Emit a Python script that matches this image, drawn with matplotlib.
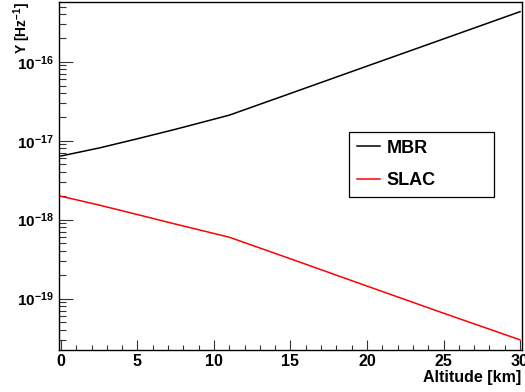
import matplotlib
matplotlib.use("Agg")
import matplotlib.pyplot as plt
from matplotlib.ticker import LogLocator, MultipleLocator, LogFormatterMathtext

plt.rcParams['font.family'] = ['Liberation Sans', 'DejaVu Sans']
plt.rcParams['font.weight'] = 'bold'
plt.rcParams['mathtext.fontset'] = 'custom'
plt.rcParams['mathtext.rm'] = 'Liberation Sans:bold'
plt.rcParams['mathtext.bf'] = 'Liberation Sans:bold'
plt.rcParams['mathtext.it'] = 'Liberation Sans:bold'
plt.rcParams['mathtext.default'] = 'bf'

# Data
altitude = [0, 2.5, 5, 7.5, 11, 15, 20, 25, 30]
mbr = [6.41e-18, 8.1e-18, 1.06e-17, 1.40e-17, 2.11e-17, 3.98e-17, 8.82e-17, 1.95e-16, 4.32e-16]
slac = [1.98e-18, 1.53e-18, 1.16e-18, 8.77e-19, 5.99e-19, 3.19e-19, 1.44e-19, 6.53e-20, 3.0e-20]
series_labels = ["MBR", "SLAC"]
xlabel = "Altitude [km]"
ylabel = "Y [Hz$^{-1}$]"

W, H = 525, 392
fig = plt.figure(figsize=(W / 100, H / 100), dpi=100)
ax = fig.add_axes([59 / W, 1 - 350 / H, (522.3 - 59) / W, 348 / H])

l1, = ax.plot(altitude, mbr, color='black', lw=1.1)
l2, = ax.plot(altitude, slac, color='#ff0000', lw=1.1)

ax.set_yscale('log')
ax.set_xlim(-0.13, 30.15)
ax.set_ylim(2.23e-20, 5.73e-16)

ax.xaxis.set_major_locator(MultipleLocator(5))
ax.xaxis.set_minor_locator(MultipleLocator(1))
ax.yaxis.set_major_locator(LogLocator(base=10, numticks=20))
ax.yaxis.set_minor_locator(LogLocator(base=10, subs=range(2, 10), numticks=20))
ax.yaxis.set_major_formatter(LogFormatterMathtext())

ax.tick_params(axis='both', which='both', direction='in', top=False, right=False,
               color='#333333', width=0.8)
ax.tick_params(axis='x', which='major', length=7.2, pad=3, labelsize=11.5)
ax.tick_params(axis='x', which='minor', length=3.6)
ax.tick_params(axis='y', which='major', length=10, pad=4, labelsize=11)
ax.tick_params(axis='y', which='minor', length=5)
for s in ax.spines.values():
    s.set_linewidth(1.0)
    s.set_color('black')

ax.set_xlabel(xlabel, fontsize=11.5, fontweight='bold', loc='right')
ax.xaxis.set_label_coords((521.5 - 59) / 463.3, -(370 - 350) / 348)
ax.xaxis.label.set_va('top')
ax.set_ylabel(ylabel, fontsize=10, fontweight='bold', loc='top')
ax.yaxis.set_label_coords((33 - 59) / 463.3, 1.0)

leg = ax.legend([l1, l2], series_labels, loc='upper left',
                bbox_to_anchor=(349 / W, 1 - 197 / H, 145 / W, 65 / H),
                bbox_transform=fig.transFigure, mode='expand', borderaxespad=0,
                prop={'family': 'Liberation Sans', 'weight': 'bold', 'size': 13},
                handlelength=1.3, handletextpad=0.35, borderpad=0.43,
                labelspacing=0.87, fancybox=False, framealpha=1,
                edgecolor='black')
leg.get_frame().set_linewidth(0.9)

fig.savefig("out.png", dpi=100)
